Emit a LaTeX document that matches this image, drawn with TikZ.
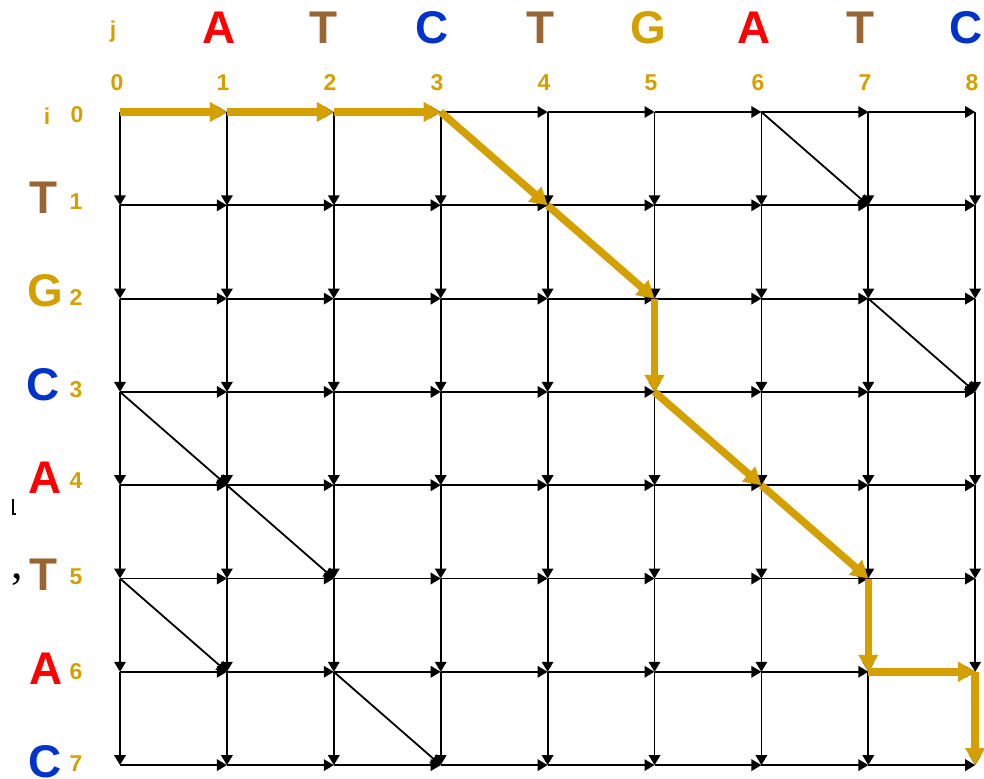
\documentclass[tikz,border=0pt]{standalone}
\usepackage{fontspec}
\setmainfont{Liberation Sans}
\newfontfamily\serifx{Liberation Serif}
\usetikzlibrary{arrows.meta}
\definecolor{gold}{RGB}{212,160,0}
\definecolor{brownT}{RGB}{153,102,51}
\definecolor{blueC}{RGB}{0,51,204}
\definecolor{redA}{RGB}{255,0,0}
\tikzset{
 edge/.style={line width=1.8bp, -{Triangle[length=10bp,width=11.5bp]}},
 pathedge/.style={draw=gold, line width=7.5bp, -{Triangle[length=17bp,width=19bp]}},
 bigletter/.style={font=\bfseries\fontsize{46}{46}\selectfont, inner sep=0pt},
 idx/.style={font=\bfseries\fontsize{23}{23}\selectfont, text=gold, inner sep=0pt},
}
\begin{document}
\begin{tikzpicture}[x=1bp,y=-1bp]
\useasboundingbox (0,0) rectangle (984,779);
\foreach \i in {0,...,7}{\foreach \j in {0,...,8}{\coordinate (n-\i-\j) at ({120+106.9*\j},{112+93.3*\i});}}
% horizontal edges
\foreach \i in {0,...,7}{\foreach \j [evaluate=\j as \k using int(\j-1)] in {1,...,8}{\draw[edge] (n-\i-\k) -- (n-\i-\j);}}
% vertical edges
\foreach \i [evaluate=\i as \k using int(\i-1)] in {1,...,7}{\foreach \j in {0,...,8}{\draw[edge] (n-\k-\j) -- (n-\i-\j);}}
% diagonal (match) edges
\foreach \a/\b/\c/\d in {0/6/1/7, 2/7/3/8, 3/0/4/1, 4/1/5/2, 5/0/6/1, 6/2/7/3, 0/3/1/4, 1/4/2/5, 3/5/4/6, 4/6/5/7}{\draw[edge] (n-\a-\b) -- (n-\c-\d);}
% highlighted path
\foreach \a/\b/\c/\d in {0/0/0/1, 0/1/0/2, 0/2/0/3, 0/3/1/4, 1/4/2/5, 2/5/3/5, 3/5/4/6, 4/6/5/7, 5/7/6/7, 6/7/6/8, 6/8/7/8}{\draw[pathedge] (n-\a-\b) -- (n-\c-\d);}
% top labels
\node[idx] (lj) at (113,32) {j};
\node[bigletter, text=redA] (t1) at (219,28) {A};
\node[bigletter, text=brownT] (t2) at (323,28) {T};
\node[bigletter, text=blueC] (t3) at (432,28) {C};
\node[bigletter, text=brownT] (t4) at (540,28) {T};
\node[bigletter, text=gold] (t5) at (648,28) {G};
\node[bigletter, text=redA] (t6) at (754,28) {A};
\node[bigletter, text=brownT] (t7) at (860,28) {T};
\node[bigletter, text=blueC] (t8) at (966,28) {C};
\foreach \j/\x in {0/117,1/223,2/330,3/437,4/544,5/651,6/758,7/865,8/972}{\node[idx] (cn\j) at (\x,83) {\j};}
% left labels
\node[idx] (li) at (47,116) {i};
\node[idx] (r0) at (77,115) {0};
\node[bigletter, text=brownT] (s1) at (43,198) {T};
\node[bigletter, text=gold] (s2) at (45,291) {G};
\node[bigletter, text=blueC] (s3) at (43,385) {C};
\node[bigletter, text=redA] (s4) at (45,478) {A};
\node[bigletter, text=brownT] (s5) at (43,575) {T};
\node[bigletter, text=redA] (s6) at (46,669) {A};
\node[bigletter, text=blueC] (s7) at (45,762) {C};
\foreach \i/\y in {1/202,2/297,3/390,4/481,5/577,6/672,7/764}{\node[idx] (rn\i) at (76,\y) {\i};}
% stray marks
\node[inner sep=0pt, font=\serifx\fontsize{46}{46}\selectfont] (comma) at (17,580) {,};
\draw[line width=1.5bp] (13,499) -- (13,514) -- (16,514);
\end{tikzpicture}
\end{document}
